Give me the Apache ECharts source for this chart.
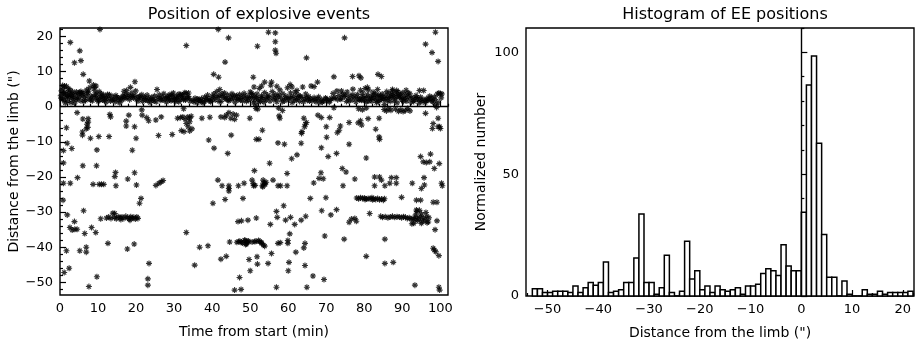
<!DOCTYPE html>
<html><head><meta charset="utf-8">
<script src="https://cdn.jsdelivr.net/npm/echarts@6/dist/echarts.min.js"></script>
<style>html,body{margin:0;padding:0;background:#fff}#c{width:917px;height:345px}</style>
</head><body><div id="c"></div>
<script>
// ---------------- DATA ----------------
// Scatter: [time (min), distance from limb (")]
const bandPoints = [
[0.2,3.1],[0.4,4.5],[0.6,2.2],[0.8,5.2],[1.0,3.6],[1.1,1.8],[1.3,4.1],[1.5,2.7],[1.7,5.8],[1.9,3.3],[2.1,1.5],[2.3,4.0],[2.5,2.5],[2.7,3.4],[2.9,1.2],[3.1,2.9],[3.3,4.3],[3.5,2.1],[3.8,1.0],[4.0,3.5],[4.3,4.2],[4.6,2.4],[4.9,3.8],[5.2,4.1],[5.5,1.7],[5.8,3.2],[6.1,4.0],[6.4,2.6],[6.7,1.8],[7.0,4.8],[7.3,3.9],[7.6,2.2],[7.9,5.5],[8.2,3.0],[8.5,1.7],[8.8,6.2],[9.1,4.6],[9.4,2.4],[9.7,3.6],[10.0,1.5],[10.3,4.3],[10.6,2.8],[10.9,3.7],[11.2,1.9],[11.5,3.3],[11.8,2.5],[12.1,1.3],[12.5,3.5],[12.9,2.2],[13.3,1.6],[13.7,3.0],[14.1,2.1],[14.5,1.4],[14.9,2.7],[15.3,1.8],[15.7,1.1],[16.1,2.4],[16.5,3.1],[16.9,2.8],[17.3,3.5],[17.7,2.6],[18.1,3.4],[18.5,2.9],[18.9,3.9],[19.3,2.5],[19.7,3.2],[20.1,2.1],[20.5,1.6],[20.9,3.0],[21.3,2.3],[21.7,1.5],[22.1,2.8],[22.5,1.9],[22.9,3.3],[23.3,2.4],[23.7,1.2],[24.1,2.7],[24.5,2.0],[24.9,3.1],[25.3,1.4],[25.7,2.5],[26.1,3.4],[26.5,1.8],[26.9,2.9],[27.3,3.7],[27.7,2.2],[28.0,1.3],[28.3,3.0],[28.6,2.4],[28.9,3.5],[29.2,1.7],[29.5,2.8],[29.8,3.9],[30.1,2.3],[30.4,1.5],[30.7,3.1],[31.0,2.6],[31.3,3.6],[31.6,1.9],[31.9,2.9],[32.2,3.3],[32.5,2.0],[32.8,4.0],[33.1,3.8],[33.4,2.5],[33.8,3.9],[34.2,1.6],[35.0,1.8],[35.5,2.4],[36.0,1.2],[36.4,2.0],[36.8,1.5],[37.2,2.3],[37.6,1.1],[38.0,2.7],[38.4,1.8],[38.8,3.3],[39.2,2.1],[39.6,1.4],[40.0,2.9],[40.4,3.6],[40.8,1.9],[41.2,4.3],[41.6,2.6],[42.0,3.2],[42.4,1.5],[42.8,2.8],[43.2,3.9],[43.6,2.2],[44.0,3.4],[44.4,1.7],[44.8,2.9],[45.2,3.7],[45.6,2.4],[46.0,1.3],[46.4,3.1],[46.8,2.0],[47.2,3.5],[47.6,2.7],[48.0,1.6],[48.4,3.8],[48.8,2.3],[49.2,3.0],[49.6,1.8],[50.0,4.2],[50.3,2.6],[50.6,3.4],[50.9,1.1],[51.2,2.9],[51.5,0.4],[51.8,3.6],[52.1,2.2],[52.4,5.2],[52.7,1.5],[53.0,3.1],[53.4,2.4],[53.8,4.0],[54.2,1.9],[54.6,3.3],[55.0,2.7],[55.4,6.1],[55.8,4.3],[56.2,2.0],[56.6,3.5],[57.0,1.4],[57.4,2.8],[57.8,4.8],[58.2,2.3],[58.6,3.7],[59.0,1.6],[59.4,3.0],[59.8,5.4],[60.2,2.5],[60.6,3.9],[61.0,1.2],[61.4,2.9],[61.8,4.1],[62.2,2.0],[62.6,3.3],[63.0,1.5],[63.4,2.7],[63.8,5.6],[64.2,2.2],[64.6,3.6],[65.0,1.8],[65.4,2.9],[65.8,2.3],[66.3,1.7],[66.8,2.6],[67.3,1.4],[67.8,2.2],[68.3,1.2],[68.8,2.0],[69.3,1.6],[69.8,2.5],[70.3,1.9],[70.8,1.3],[71.3,2.4],[71.8,3.8],[72.3,2.7],[72.8,4.5],[73.3,3.2],[73.8,2.1],[74.3,3.6],[74.8,2.9],[75.3,1.5],[75.8,2.4],[76.3,3.1],[76.8,1.9],[77.3,2.7],[77.8,1.4],[78.2,3.5],[78.6,2.2],[79.0,4.7],[79.3,1.8],[79.6,3.9],[79.9,2.6],[80.2,5.2],[80.5,1.3],[80.8,3.4],[81.1,4.8],[81.4,2.1],[81.7,3.0],[82.0,1.6],[82.3,4.1],[82.6,2.5],[82.9,3.7],[83.2,1.2],[83.5,2.9],[83.8,3.3],[84.1,1.8],[84.4,2.4],[84.7,3.6],[85.0,2.0],[85.3,0.6],[85.6,3.1],[85.9,4.3],[86.2,2.6],[86.5,3.8],[86.8,1.5],[87.1,2.8],[87.4,4.5],[87.7,3.2],[88.0,2.3],[88.3,3.9],[88.6,1.1],[88.9,4.2],[89.2,2.7],[89.5,3.5],[89.8,1.9],[90.1,4.0],[90.4,2.4],[90.8,3.3],[91.2,1.6],[91.6,2.9],[92.0,3.7],[92.4,1.3],[92.8,2.6],[93.2,1.9],[93.6,3.2],[94.0,2.2],[94.4,1.0],[94.8,2.7],[95.2,1.5],[95.6,4.6],[96.0,1.2],[96.4,2.3],[96.8,1.8],[97.2,3.0],[97.6,2.5],[98.0,1.4],[98.4,2.8],[98.8,0.6],[99.2,3.6],[99.6,3.9],[100.0,3.7],[100.4,3.6]
];
const bandPoints2 = [
[0.3,2.4],[0.9,3.9],[1.4,1.1],[2.0,2.9],[2.6,4.8],[3.2,3.6],[3.6,2.6],[4.4,1.9],[5.0,2.8],[5.7,3.7],[6.3,1.5],[6.9,3.3],[7.5,4.4],[8.1,1.9],[8.7,2.9],[9.3,3.4],[9.9,2.2],[10.5,1.9],[11.0,3.0],[11.7,1.8],[12.3,2.6],[13.0,3.4],[13.9,1.9],[14.7,3.2],[15.5,2.5],[16.3,1.9],[17.1,2.3],[18.3,2.0],[19.1,2.9],[19.9,4.5],[20.7,2.7],[21.5,3.4],[22.3,2.3],[23.1,1.7],[23.9,2.1],[24.7,1.6],[26.3,2.3],[27.1,1.9],[28.1,2.6],[28.8,1.9],[29.4,3.3],[30.0,1.9],[30.6,2.4],[31.2,1.4],[31.8,3.5],[32.4,2.4],[33.0,1.9],[33.6,2.9],[34.0,2.4],[35.2,1.4],[36.2,2.2],[37.0,1.7],[37.9,1.4],[38.6,2.4],[39.4,1.7],[40.2,2.2],[41.0,3.0],[41.8,1.5],[42.6,3.6],[43.4,2.5],[44.2,1.9],[45.0,2.1],[45.8,3.2],[46.6,2.4],[47.4,1.9],[48.2,2.9],[49.0,1.5],[49.8,2.6],[50.4,3.8],[51.0,1.9],[51.6,2.5],[52.2,1.4],[52.9,2.6],[53.6,1.3],[54.4,2.6],[55.2,1.6],[56.0,2.9],[56.8,2.4],[57.6,3.4],[58.4,1.4],[59.2,2.4],[60.0,1.9],[60.8,2.6],[61.6,1.7],[62.4,2.5],[63.2,3.0],[64.0,1.4],[64.8,2.6],[65.6,1.6],[67.0,2.0],[68.0,2.8],[69.0,1.3],[70.0,2.2],[71.0,1.8],[72.0,2.3],[73.0,2.0],[74.0,2.4],[75.0,3.3],[76.0,1.6],[77.0,3.4],[78.0,2.6],[78.8,1.9],[79.4,2.9],[80.0,1.8],[80.6,2.6],[81.2,1.6],[81.9,2.4],[82.5,3.3],[83.0,2.0],[83.7,1.5],[84.3,3.0],[84.9,2.7],[85.5,2.2],[86.1,1.7],[86.7,2.6],[87.3,3.5],[87.9,1.6],[88.5,2.8],[89.1,3.3],[89.7,2.6],[90.3,1.5],[90.9,2.3],[91.5,3.9],[92.2,2.4],[93.0,1.5],[93.8,2.6],[94.6,1.8],[95.4,2.1],[96.2,1.6],[97.0,2.2],[97.8,1.7],[98.6,2.0],[99.4,1.2],[100.2,2.5],
[0.7,6.0],[2.2,5.1],[5.5,4.3],[9.0,5.5],[17.5,4.6],[25.5,4.9],[42.0,4.9],[51.0,5.6],[53.0,5.9],[57.0,5.8],[61.0,5.6],[62.3,4.6],[66.8,5.7],[74.0,4.5],[75.5,4.2],[77.0,5.0],[80.8,5.5],[83.5,4.9],[88.5,4.6],[91.0,4.7],[94.5,4.6],[87.4,4.9],
[85.2,-0.8],[85.8,-1.2],[86.4,-0.6],[87.0,-1.0],[88.2,-0.7],[89.0,-1.3],[89.6,-0.9],[90.2,-1.4],[90.8,-1.1],[91.4,-0.5],[92.0,-1.2],[51.5,-0.5],[52.0,-0.7],[57.5,-0.4],[58.5,-1.1],[78.5,-0.6],[79.5,-0.9],[80.5,-0.4],[72.0,-0.3],[32.5,-0.6],[21.5,-0.9],[99.0,-0.2]
];
const upperPoints = [
[10.5,22],[2.7,18.3],[3.8,12.5],[5.2,15.9],[5.5,13.1],[6.1,9.2],[33.2,17.4],[41.6,22],[44.3,19.6],[43.4,12.7],[40.4,9.2],[41.7,8.4],[51.9,17.2],[54.8,21.2],[56.6,21],[56.6,18.5],[56.6,16.1],[56.8,15.2],[64.8,13.9],[50.8,8.4],[74.8,19.6],[72,8.5],[76.9,8.6],[78.6,8.8],[79.1,8.2],[83.6,9.2],[84.5,8.6],[67.7,7.0],[96.1,17.8],[97.8,15.4],[98.7,21.2],[99.4,12.9],[19.7,7.1],[18.5,5.5],[16.8,4.4],[7.7,7.3],[9.5,5.9],[1.2,5.9],[53.8,7.0],[55.6,7.0],[60.5,6.3],[66,5.9]
];
const lowerPoints = [
[4.5,-1.7],[6,-3.5],[7.4,-4.4],[7.4,-3.4],[7.1,-5],[7.3,-5.9],[6.9,-6.3],[5.9,-7.2],[5.9,-8.1],[8,-9],[10.2,-8.5],[13.1,-2.2],[13.3,-2.9],[12.9,-8.5],[1.7,-6],[1.9,-10.4],[0.9,-12.5],[0.9,-16],[3.1,-11.9],[9.7,-12.3],[9.6,-16.8],[6.0,-16.8],
[17.4,-4.1],[17.4,-5.5],[18.1,-2.4],[19.6,-5.7],[20,-9],[19,-12.4],[14.6,-18.7],[14.4,-19.9],[14.7,-22.5],[17.8,-20.6],[19.6,-18.8],[20.1,-22.3],[8.7,-22.1],[10.3,-22.1],[10.9,-22.1],[11.5,-22.1],[2.7,-21.8],[0.9,-21.8],[4.6,-20.2],[21.6,-2.4],[20.9,-27.5],[21.3,-26.1],[22.8,-3.1],[23.3,-4],[25.2,-3.8],[25.9,-8.2],[26.6,-2.9],[25.2,-22.4],[26,-21.8],[26.6,-21.4],[27.1,-21],[29.5,-7.9],
[30.9,-3.3],[31.7,-3.1],[32.3,-2.9],[32.9,-3.6],[33.6,-2.9],[34.1,-3.3],[34.5,-2.7],[34.1,-4.3],[33.7,-5.7],[34.1,-6.9],[34.7,-6.3],[32.6,-7.1],[31.9,-6.8],[33.2,-4.8],[33.2,-35.8],[35.4,-45.1],[36.7,-40],[38.9,-39.6],[39.1,-9.5],[39.4,-3],[37.3,-3.3],[40.5,-11.8],[40.2,-27.5],[41.5,-20.9],[42.3,-43.4],[43.7,-42.6],[42.6,-22.5],[43.4,-26.4],[44.1,-13.3],[44.4,-22.5],[44.4,-23.3],[44.4,-24],[44.6,-38.5],
[42.3,-2.9],[43.3,-3.1],[43.7,-2.4],[44.4,-1.7],[44.9,-3.3],[45.5,-2.1],[45.9,-3.6],[46.4,-2.4],[45,-8.1],[45.9,-52.2],[47.2,-48.6],[47.6,-52],[46.9,-22.5],[48.1,-26.1],[48.4,-21.8],[46.8,-32.7],[47.7,-32.5],[49.4,-32.3],[47,-38.4],[47.7,-38.6],[48.7,-38.1],[49,-39.1],[49.4,-38.4],[49.9,-3.3],[49.7,-43.5],[50,-46.7],[50.5,-20.9],[51.1,-18.2],[50.9,-22.5],[51.2,-38.4],[52.2,-38.1],[52.9,-38.6],[53.5,-39.4],[51.6,-31.7],[51.8,-42.7],[51.9,-44.8],[51.6,-9.3],[52.3,-9.3],[53.2,-6.7],[53.4,-20.9],[53.8,-21.8],[53.2,-22.5],[55.1,-16.1],[55.3,-33.5],[54.7,-44.6],[55.6,-41.8],[56,-20.9],[56.9,-29.8],[57.1,-31.5],[57.3,-10.3],[57.6,-2.6],[57.8,-3.3],[57.3,-22.5],[58,-22.5],[57.3,-38.9],[57.9,-38.7],[56.9,-51.4],[58.8,-28.2],[59.7,-22.5],[59.7,-19],[59.3,-32.3],[59,-10.7],[59.9,-38.1],[59.9,-38.9],[60.2,-44.3],[60,-46.7],[60.4,-36.2],[60.6,-31.5],[60.9,-14.8],[61.7,-33.5],[62,-41.4],[62.3,-13.7],[63.4,-10.4],[63.5,-7.6],[64.3,-5.7],[64.5,-5],[64.8,-4.5],[64.1,-3.3],[63.6,-7.1],[63.4,-32.3],[64.6,-31.2],[64.1,-40.2],[64.4,-38.9],[64.4,-45.2],[64.9,-51.4],[65.8,-26.1],[66.5,-48.2],[66.7,-21.7],[68.1,-20.4],[68.6,-18.8],[69.2,-20.5],[68.7,-11.7],[68.8,-29.6],[69.4,-49.2],[69.6,-36.8],[67.8,-2.4],[68.7,-3.1],[70,-5.7],[70.1,-8.7],[70.5,-14.2],[70.9,-3.1],[69.9,-25.9],[71.2,-30.8],[72.7,-13.3],[72.9,-7.4],[73.4,-6.7],[73.7,-5.5],[72.7,-29.3],[74.4,-22.5],[74.2,-17.6],[75.2,-18.6],[74.7,-37.7],[76,-10.7],[76,-4.5],[76,-32.9],[76.6,-32],[77.5,-31.8],[77.9,-32.6],[77.5,-20.6],[78.4,-4.6],[79,-4],[79.3,-5.2],[80.5,-14.6],[80.5,-42.6],[81.4,-30.4],[81,-3.4],[82.7,-20],[82.7,-22.5],[83,-6.4],[83.9,-8.6],[84,-9.3],[83.9,-3.3],[84,-20],[84.5,-20.9],[85.4,-22.5],[85.4,-37.7],[85.4,-44.6],[86.7,-21.8],[87.1,-20.2],[87.6,-44.3],[88.4,-20.2],[88.4,-21.8],[89.8,-25.8],[92.6,-21.8],[93.3,-50.8],[93.7,-29.4],[93.7,-26.6],[94.8,-26.6],[94.8,-14.2],[95.5,-15.7],[96.3,-15.9],[97.2,-15.7],[97.4,-13.5],[95,-23.3],[95.8,-22.3],[95.7,-20.2],[95,-33.2],[96.1,-1.9],[98.1,-4.8],[97.9,-6.2],[98.1,-27.2],[99.1,-27.2],[98.4,-17.6],[98.6,-35],[98.1,-40.3],[98.4,-40.8],[98.8,-41.3],[99.4,-5.7],[99.8,-5.7],[100,-6.2],[99.4,-3.3],[99.1,-32.5],[99.6,-42.4],[99.7,-16.2],[100.3,-21.8],[100.5,-22.5],[99.6,-51.4],[99.8,-52.2],
[0.8,-26.6],[1.1,-47.2],[2.4,-46],[1.7,-41],[1.9,-30.8],[2.6,-34.4],[3.2,-35.1],[3.8,-32.7],[3.9,-34.9],[4.5,-34.9],[5.2,-41],[6.2,-29.6],[6.5,-36.1],[6.9,-40],[6.9,-41.4],[7.6,-51.2],[8.3,-34.4],[9.4,-35.8],[9.7,-48.4],[10.7,-31.9],[12.6,-38.9],[14.4,-30.4],[17.7,-40.5],[19.5,-39.1],[23.1,-49],[23.1,-50.8],[23.4,-44.6]
];
const clusterPoints = [
[12.2,-31.7],[12.8,-31.4],[13.4,-31.8],[13.9,-30.3],[14.3,-31.5],[14.8,-31.9],[15.3,-31.3],[15.8,-31.6],[16.3,-31.4],[16.8,-31.8],[17.3,-31.2],[17.8,-31.6],[18.2,-31.9],[18.6,-31.3],[19.0,-31.7],[19.4,-31.5],[19.8,-32.0],[20.2,-31.4],[20.5,-31.8],[16.0,-32.1],[18.4,-32.3],
[78.0,-26.0],[78.5,-26.2],[79.0,-25.9],[79.5,-26.1],[80.0,-26.0],[80.5,-26.3],[81.0,-26.1],[81.5,-26.2],[82.0,-25.9],[82.5,-26.2],[83.0,-26.4],[83.5,-26.1],[84.0,-26.5],[84.5,-26.3],[85.0,-26.6],[85.3,-26.2],[80.2,-26.4],[82.2,-26.5],
[84.3,-31.2],[84.8,-31.5],[85.5,-31.3],[86.2,-31.6],[86.8,-31.4],[87.4,-31.2],[88.0,-31.5],[88.6,-31.3],[89.2,-31.4],[89.8,-31.6],[90.3,-31.3],[90.8,-31.5],[91.3,-31.8],[91.8,-31.6],[92.3,-32.0],[92.8,-31.8],[93.3,-32.2],[93.6,-31.5],[94.0,-32.4],[94.4,-31.9],[94.8,-31.3],[95.2,-32.6],[95.6,-31.7],[96.0,-32.3],[96.4,-31.2],[96.8,-32.8],[93.0,-33.2],[93.8,-29.8],[94.5,-29.5],[95.0,-30.5],[96.2,-30.1],[96.5,-33.0],[97.0,-31.6],[92.5,-33.3],[93.5,-30.8],
[46.5,-38.6],[47.3,-38.3],[48.0,-38.8],[48.5,-38.0],[49.2,-38.7],[50.5,-38.5],[51.5,-38.3],[52.5,-38.4],[53.0,-38.9],[53.8,-39.7],[48.8,-39.2],[49.5,-38.2],
[53.5,-21.7],[53.9,-22.2],[54.2,-21.5],[53.3,-22.8],[50.8,-21.9],[51.3,-22.4]
];

// Histogram: left edge of each 1" bin and normalized number
const histBinStart = [-53,-52,-51,-50,-49,-48,-47,-46,-45,-44,-43,-42,-41,-40,-39,-38,-37,-36,-35,-34,-33,-32,-31,-30,-29,-28,-27,-26,-25,-24,-23,-22,-21,-20,-19,-18,-17,-16,-15,-14,-13,-12,-11,-10,-9,-8,-7,-6,-5,-4,-3,-2,-1,0,1,2,3,4,5,6,7,8,9,10,11,12,13,14,15,16,17,18,19,20,21];
const histCounts = [3,3,1.4,1.4,2,2,2,1.4,4.1,1.4,3.4,5.5,4.4,5.5,14,1.4,2,2.6,5.5,5.5,15.6,33.7,5.5,5.5,0.7,3.4,16.7,1.4,0,2,22.5,7,10.4,2.6,4.1,1.4,4.1,2.6,2,2.6,3.4,0.7,4.1,4.1,4.8,9.2,11.2,10.4,8.4,21,12.3,10.4,10.4,34.4,86.6,98.5,62.7,25.2,7.7,7.7,0,6.2,0.7,0,0,2.6,0.7,0.7,2,0.7,1.4,1.4,1.4,1.4,2];
const histBinWidth = 1;

// Tick labels
const leftXTicks = [0,10,20,30,40,50,60,70,80,90,100];
const leftYTicks = [-50,-40,-30,-20,-10,0,10,20];
const rightXTicks = [-50,-40,-30,-20,-10,0,10,20];
const rightYTicks = [0,50,100];

// ---------------- CHART ----------------
const FONT = 'DejaVu Sans';
function minors(lo, hi, step, majors) {
  const out = [];
  for (let v = lo; v <= hi + 1e-9; v += step) {
    const r = Math.round(v * 1000) / 1000;
    if (majors.indexOf(r) < 0) out.push(r);
  }
  return out;
}
const fmt = v => String(v).replace('-', '\u2212');
const LX = [0, 102], LY = [-53.6, 22.4], RX = [-54.25, 22.2], RY = [0, 110];

function axis(kind, grid, rng, ticks, isMinor, extra) {
  const a = {
    type: 'value', gridIndex: grid, min: rng[0], max: rng[1],
    axisLine: { show: false }, splitLine: { show: false },
    axisTick: { show: true, inside: true, length: isMinor ? 3 : 6, customValues: ticks,
                lineStyle: { color: '#000', width: 1.2 } },
    axisLabel: isMinor ? { show: false } : { show: true, customValues: ticks, formatter: fmt,
                color: '#000', fontFamily: FONT, fontSize: 13, margin: 7 },
    position: kind === 'x' ? 'bottom' : 'left'
  };
  return Object.assign(a, extra || {});
}
const nameStyle = { color: '#000', fontFamily: FONT, fontSize: 14 };

const symbolPath = 'path://M5,0L5,10M0,5L10,5M1.6,1.6L8.4,8.4M1.6,8.4L8.4,1.6';
const scatterStyle = { color: 'rgba(0,0,0,0)', borderColor: '#000', borderWidth: 1.1 };

const histData = histBinStart.map((s, i) => [s, s + histBinWidth, histCounts[i]]);

const option = {
  animation: false,
  backgroundColor: '#fff',
  title: [
    { text: 'Position of explosive events', left: 254, top: 2, textAlign: 'center',
      textStyle: { fontFamily: FONT, fontSize: 16, fontWeight: 'normal', color: '#000' } },
    { text: 'Histogram of EE positions', left: 720, top: 2, textAlign: 'center',
      textStyle: { fontFamily: FONT, fontSize: 16, fontWeight: 'normal', color: '#000' } }
  ],
  grid: [
    { left: 60, right: 469, top: 28, bottom: 50, show: true, borderColor: '#000', borderWidth: 1.4, backgroundColor: 'transparent' },
    { left: 526, right: 3, top: 28, bottom: 49, show: true, borderColor: '#000', borderWidth: 1.4, backgroundColor: 'transparent' }
  ],
  xAxis: [
    axis('x', 0, LX, leftXTicks, false, { name: 'Time from start (min)', nameLocation: 'middle', nameGap: 30, nameTextStyle: nameStyle }),
    axis('x', 0, LX, minors(0, 102, 2, leftXTicks), true),
    axis('x', 1, RX, rightXTicks, false, { name: 'Distance from the limb (")', nameLocation: 'middle', nameGap: 30, nameTextStyle: nameStyle }),
    axis('x', 1, RX, minors(-54, 22, 2, rightXTicks), true)
  ],
  yAxis: [
    axis('y', 0, LY, leftYTicks, false, { name: 'Distance from the limb (")', nameLocation: 'middle', nameGap: 38, nameRotate: 90, nameTextStyle: nameStyle }),
    axis('y', 0, LY, minors(-52, 22, 2, leftYTicks), true),
    axis('y', 1, RY, rightYTicks, false, { name: 'Normalized number', nameLocation: 'middle', nameGap: 38, nameRotate: 90, nameTextStyle: nameStyle }),
    axis('y', 1, RY, minors(0, 110, 10, rightYTicks), true)
  ],
  series: [
    { type: 'scatter', xAxisIndex: 0, yAxisIndex: 0, symbol: symbolPath, symbolSize: 6,
      itemStyle: scatterStyle, data: bandPoints.concat(bandPoints2, upperPoints, lowerPoints, clusterPoints),
      markLine: { silent: true, symbol: 'none', label: { show: false },
                  lineStyle: { color: '#000', width: 1.4, type: 'solid' }, data: [{ yAxis: 0 }] } },
    { type: 'custom', xAxisIndex: 2, yAxisIndex: 2, data: histData,
      renderItem: function (params, api) {
        const p0 = api.coord([api.value(0), 0]);
        const p1 = api.coord([api.value(1), api.value(2)]);
        return { type: 'rect', shape: { x: p0[0], y: p1[1], width: p1[0] - p0[0], height: p0[1] - p1[1] },
                 style: { fill: '#fff', stroke: '#000', lineWidth: 1.5 } };
      },
      markLine: { silent: true, symbol: 'none', label: { show: false },
                  lineStyle: { color: '#000', width: 1.4, type: 'solid' }, data: [{ xAxis: 0 }] } }
  ]
};
const chart = echarts.init(document.getElementById('c'), null, { renderer: 'canvas' });
chart.setOption(option);
</script></body></html>
